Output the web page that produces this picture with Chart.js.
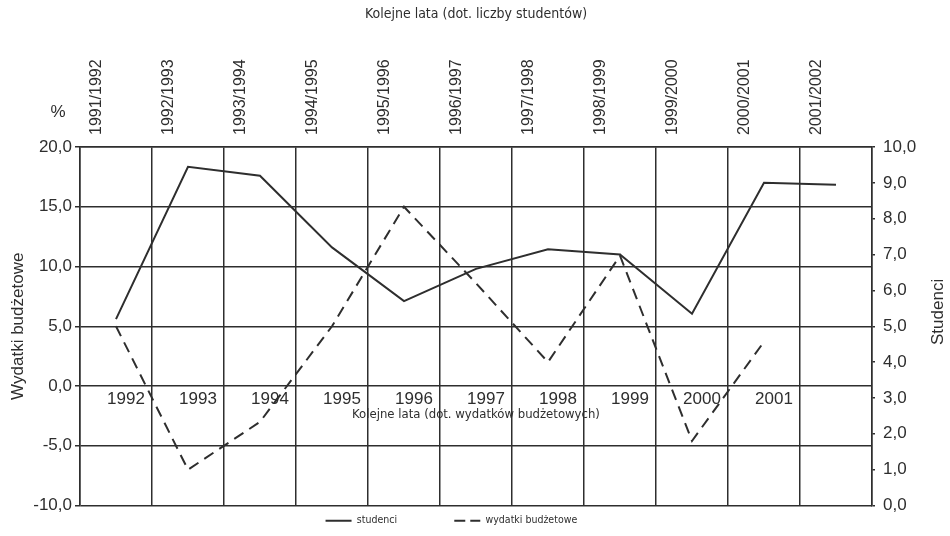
<!DOCTYPE html>
<html>
<head>
<meta charset="utf-8">
<script src="https://cdn.jsdelivr.net/npm/chart.js@4"></script>
<style>
html, body { margin: 0; padding: 0; background: #fff; }
</style>
</head>
<body>
<canvas id="myChart" width="950" height="536"></canvas>
<script>
// academic years (top axis, students)
const topLabels = ["1991/1992", "1992/1993", "1993/1994", "1994/1995", "1995/1996", "1996/1997",
  "1997/1998", "1998/1999", "1999/2000", "2000/2001", "2001/2002"];
// calendar years (budget spending), last column left empty
const bottomLabels = ["1992", "1993", "1994", "1995", "1996", "1997", "1998", "1999", "2000", "2001", ""];

// right axis
const studenci = [5.2, 9.45, 9.2, 7.2, 5.7, 6.6, 7.15, 7.0, 5.35, 9.0, 8.95];
// left axis, %
const wydatki = [5.0, -7.0, -3.0, 5.0, 15.0, 8.6, 2.0, 10.9, -4.6, 3.7, null];

const leftTicks = [-10, -5, 0, 5, 10, 15, 20];
const rightTicks = [0, 1, 2, 3, 4, 5, 6, 7, 8, 9, 10];

const ink = "#2e2e2e";
const sans = "'Liberation Sans', Arial, sans-serif";
const narrow = "'Liberation Sans Narrow', 'Arial Narrow', 'DejaVu Sans Condensed', sans-serif";

const comma = v => Number(v).toFixed(1).replace(".", ",");

// "%" above the left axis and the right axis title (reads bottom to top like the left one)
const extraText = {
  id: "extraText",
  afterDraw(chart) {
    const c = chart.ctx;
    const y = chart.scales.y;
    const y2 = chart.scales.y2;
    c.save();
    c.fillStyle = ink;
    c.font = "17px " + sans;
    c.textAlign = "center";
    c.textBaseline = "middle";
    c.fillText("%", y.right - 22, y.top - 35);
    c.translate(y2.right - 12, y2.getPixelForValue(5.4));
    c.rotate(-Math.PI / 2);
    c.font = "17px " + sans;
    c.fillText("Studenci", 0, 0);
    c.restore();
  }
};

const ctx = document.getElementById("myChart").getContext("2d");
const chart = new Chart(ctx, {
  type: "line",
  data: {
    labels: topLabels,
    datasets: [{
      label: "studenci",
      data: studenci,
      yAxisID: "y2",
      borderColor: ink,
      borderWidth: 2,
      pointRadius: 0,
      tension: 0
    }, {
      label: "wydatki budżetowe",
      data: wydatki,
      yAxisID: "y",
      borderColor: ink,
      borderWidth: 2,
      borderDash: [11, 7],
      pointRadius: 0,
      tension: 0
    }]
  },
  options: {
    responsive: false,
    animation: false,
    layout: { padding: { left: 0, right: 0, top: 0, bottom: 0 } },
    plugins: {
      tooltip: { enabled: false },
      legend: {
        position: "bottom",
        labels: {
          usePointStyle: true,
          pointStyle: "line",
          pointStyleWidth: 26,
          boxHeight: 8,
          padding: 10,
          color: ink,
          font: { family: narrow, size: 10.5 },
          generateLabels: (ch) => {
            const items = Chart.defaults.plugins.legend.labels.generateLabels(ch);
            items[0].text = items[0].text + "\u2003\u2003\u2003\u2003\u2003";
            items[1].text = items[1].text + "\u2003\u2003\u2003\u2003\u2003";
            items[1].lineDash = [11, 5];
            items.forEach(it => { it.lineWidth = 2; });
            return items;
          }
        }
      }
    },
    scales: {
      x: {
        position: "top",
        offset: true,
        grid: { offset: true, color: ink, lineWidth: 1.5, drawTicks: false },
        border: { color: ink, width: 1.5 },
        ticks: {
          minRotation: 90, maxRotation: 90, padding: 12,
          color: ink, font: { family: sans, size: 16 }
        },
        title: {
          display: true,
          text: "Kolejne lata (dot. liczby studentów)",
          color: ink,
          font: { family: narrow, size: 14 },
          padding: { top: 6, bottom: 0 }
        },
        afterFit: s => { s.height = 147; }
      },
      x2: {
        type: "category",
        labels: bottomLabels,
        position: { y: 0 },
        offset: true,
        grid: { display: false, drawTicks: false },
        border: { display: false },
        ticks: {
          maxRotation: 0, autoSkip: false, padding: 3, labelOffset: 10,
          color: ink, font: { family: sans, size: 17 }
        },
        title: {
          display: true,
          text: "Kolejne lata (dot. wydatków budżetowych)",
          color: ink,
          font: { family: narrow, size: 13, lineHeight: 1 },
          padding: { top: -4, bottom: 0 }
        }
      },
      y: {
        position: "left",
        min: -10, max: 20,
        afterBuildTicks: s => { s.ticks = leftTicks.map(v => ({ value: v })); },
        grid: { color: ink, lineWidth: 1.5, tickLength: 5 },
        border: { color: ink, width: 1.5 },
        ticks: { callback: comma, padding: 3, color: ink, font: { family: sans, size: 17 } },
        title: {
          display: true,
          text: "Wydatki budżetowe",
          color: ink,
          font: { family: sans, size: 17 },
          padding: { top: 8, bottom: 2 }
        },
        afterFit: s => { s.width = 80; }
      },
      y2: {
        position: "right",
        min: 0, max: 10,
        afterBuildTicks: s => { s.ticks = rightTicks.map(v => ({ value: v })); },
        grid: { drawOnChartArea: false, color: ink, lineWidth: 1.5, tickLength: 3 },
        border: { color: ink, width: 1.5 },
        ticks: { callback: comma, padding: 8, color: ink, font: { family: sans, size: 17 } },
        title: { display: false },
        afterFit: s => { s.width = 78; }
      }
    }
  },
  plugins: [extraText]
});
</script>
</body>
</html>
